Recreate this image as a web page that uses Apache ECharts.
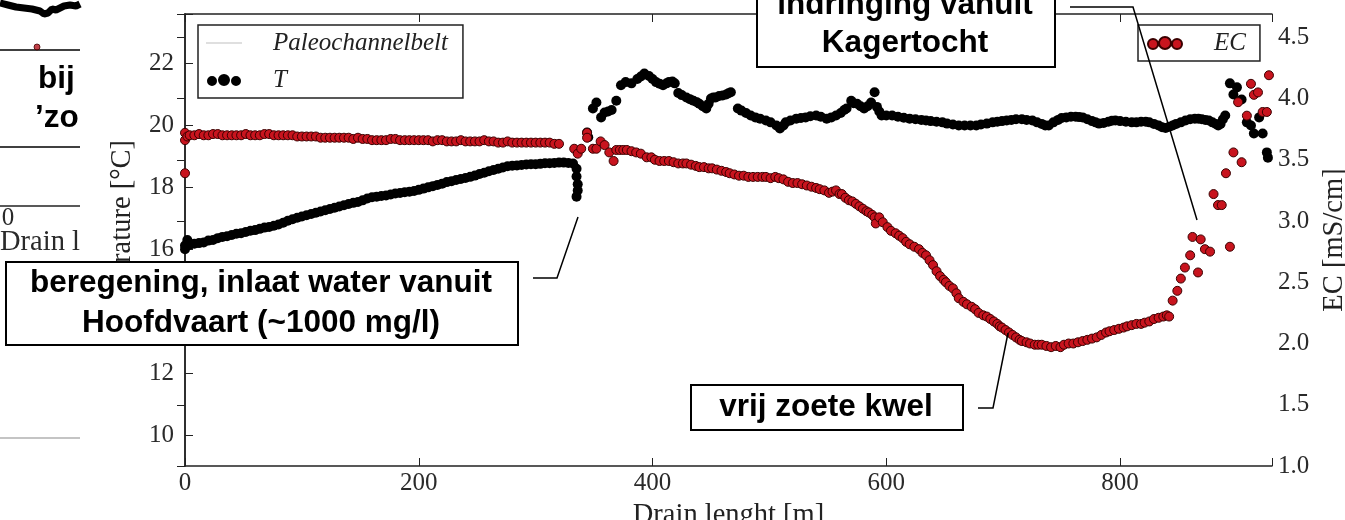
<!DOCTYPE html>
<html>
<head>
<meta charset="utf-8">
<script src="https://cdn.jsdelivr.net/npm/echarts@6/dist/echarts.min.js"></script>
<style>
html, body { margin: 0; padding: 0; background: #fff; }
#main { width: 1345px; height: 520px; }
</style>
</head>
<body>
<div id="main"></div>
<script>
// tick labels
var xTicks = [0, 200, 400, 600, 800];
var tempTicks = [10, 12, 14, 16, 18, 20, 22];
var ecTicks = [1.0, 1.5, 2.0, 2.5, 3.0, 3.5, 4.0, 4.5];

// temperature T [°C] along the drain (distance in m)
var tempDist = [
    0, 0, 2, 4, 8, 12, 16, 20, 24, 28, 32, 36, 40, 44, 48, 52, 56, 60, 64, 68, 72, 76, 80, 84, 88, 92, 96,
    100, 104, 108, 112, 116, 120, 124, 128, 132, 136, 140, 144, 148, 152, 156, 160, 164, 168, 172, 176, 180,
    184, 188, 192, 196, 200, 204, 208, 212, 216, 220, 224, 228, 232, 236, 240, 244, 248, 252, 256, 260, 264,
    268, 272, 276, 280, 284, 288, 292, 296, 300, 304, 308, 312, 316, 320, 324, 328, 332, 335, 335, 336, 336, 335,
    344, 345, 349, 352, 356, 359, 362, 365, 369, 373, 377, 382, 387, 390, 393, 397, 400, 403, 406, 409, 412,
    414, 417, 419, 422, 425, 429, 432, 435, 438, 440, 443, 446, 448, 450, 452, 454, 457, 460, 463, 465, 467,
    473, 476, 480, 484, 488, 492, 497, 501, 506, 509, 512, 514, 518, 523, 527, 531, 535, 540, 544, 549, 553,
    557, 561, 564, 566, 570, 572, 575, 578, 581, 584, 587, 590, 592, 594, 596, 600, 605, 610, 615, 620, 625,
    630, 634, 638, 643, 648, 652, 657, 662, 667, 672, 677, 681, 686, 691, 695, 699, 703, 707, 711, 716, 720,
    725, 729, 733, 736, 739, 743, 747, 750, 754, 758, 762, 765, 768, 772, 776, 779, 782, 786, 790, 793, 796,
    800, 805, 810, 814, 818, 822, 825, 829, 833, 836, 839, 842, 845, 848, 852, 856, 860, 864, 867, 870, 873,
    876, 879, 882, 884, 886, 888, 890,
    894, 900, 897, 904, 908.5, 912, 914.5, 919, 922, 925.6, 926.5
];
var tempVals = [
    16.12, 16.0, 16.3, 16.15, 16.18, 16.2, 16.22, 16.28, 16.3, 16.36, 16.4, 16.42, 16.46, 16.5, 16.52, 16.56,
    16.6, 16.62, 16.66, 16.7, 16.72, 16.76, 16.8, 16.86, 16.92, 16.97, 17.02, 17.06, 17.1, 17.14, 17.18, 17.22,
    17.26, 17.3, 17.34, 17.38, 17.42, 17.46, 17.5, 17.53, 17.58, 17.64, 17.68, 17.7, 17.72, 17.74, 17.77, 17.8,
    17.82, 17.84, 17.86, 17.88, 17.92, 17.96, 18.0, 18.04, 18.08, 18.12, 18.17, 18.2, 18.24, 18.27, 18.3, 18.34,
    18.38, 18.43, 18.47, 18.52, 18.56, 18.6, 18.64, 18.68, 18.7, 18.71, 18.72, 18.74, 18.75, 18.75, 18.76, 18.78,
    18.78, 18.79, 18.8, 18.8, 18.79, 18.77, 18.6, 18.35, 18.1, 17.9, 17.7,
    19.77, 19.62, 20.55, 20.74, 20.26, 20.42, 20.45, 20.5, 20.8, 21.3, 21.4, 21.36, 21.5, 21.58, 21.68, 21.6,
    21.5, 21.4, 21.35, 21.3, 21.36, 21.4, 21.42, 21.36, 21.05, 20.98, 20.9, 20.85, 20.8, 20.75, 20.7, 20.62,
    20.55, 20.7, 20.87, 20.9, 20.9, 20.95, 20.97, 21.0, 21.04, 21.07,
    20.55, 20.48, 20.4, 20.32, 20.26, 20.22, 20.16, 20.1, 20.0, 19.9, 20.0, 20.1, 20.16, 20.22, 20.24, 20.26,
    20.3, 20.32, 20.28, 20.22, 20.26, 20.32, 20.4, 20.5, 20.55, 20.8, 20.72, 20.7, 20.62, 20.55, 20.62, 20.74,
    21.07, 20.6, 20.45, 20.32, 20.32, 20.32, 20.28, 20.25, 20.22, 20.2, 20.18, 20.16, 20.14, 20.12, 20.1, 20.06,
    20.03, 20.0, 20.0, 20.0, 20.0, 20.03, 20.06, 20.1, 20.12, 20.14, 20.16, 20.18, 20.2, 20.2, 20.18, 20.16,
    20.1, 20.05, 20.0, 20.0, 20.1, 20.18, 20.24, 20.26, 20.28, 20.28, 20.27, 20.26, 20.2, 20.14, 20.1, 20.06,
    20.08, 20.12, 20.15, 20.16, 20.14, 20.12, 20.1, 20.1, 20.12, 20.12, 20.1, 20.05, 20.0, 19.94, 19.92, 19.96,
    20.0, 20.05, 20.1, 20.16, 20.2, 20.22, 20.22, 20.2, 20.18, 20.16, 20.1, 20.05, 20.0, 20.05, 20.2, 20.32,
    21.36, 21.23, 21.0, 20.84, 20.1, 20.0, 19.74, 20.26, 19.74, 19.13, 18.96
];

// electrical conductivity EC [mS/cm] along the drain
var ecDist = [
    0, 0, 0, 2, 4, 8, 12, 16, 20, 24, 28, 32, 36, 40, 44, 48, 52, 56, 60, 64, 68, 72, 76, 80, 84, 88, 92, 96,
    100, 104, 108, 112, 116, 120, 124, 128, 132, 136, 140, 144, 148, 152, 156, 160, 164, 168, 172, 176, 180,
    184, 188, 192, 196, 200, 204, 208, 212, 216, 220, 224, 228, 232, 236, 240, 244, 248, 252, 256, 260, 264,
    268, 272, 276, 280, 284, 288, 292, 296, 300, 304, 308, 312, 316, 320,
    333, 336, 339, 344, 344, 349, 352, 355.6, 359, 363, 366.7, 369, 372, 375, 378, 382, 386, 390, 395, 399, 402,
    406, 410, 414, 418, 422, 426, 429, 433, 437, 440, 444, 448, 451, 455, 459, 463, 466, 470, 474, 478, 482,
    486, 490, 494, 497, 501, 505, 508, 512, 516, 520, 524, 528, 532, 536, 540, 543, 547, 551, 554, 557, 560,
    562, 565, 568, 571, 574, 577, 580, 583, 585, 588, 590, 591, 594, 597, 601, 604, 608, 611, 614, 617, 620,
    624, 628, 631, 634, 637, 640, 643, 646, 649, 651, 654, 657, 660, 662, 666, 669, 673, 676, 679, 683, 686,
    689, 692, 695, 697, 699, 702, 705, 708, 711, 714, 716, 720, 723, 727, 730, 733, 737, 741, 745, 749, 752,
    756, 760, 764, 768, 772, 776, 780, 784, 788, 791, 795, 799, 803, 806, 810, 814, 818, 821, 825, 829, 833,
    837, 840, 842,
    845, 849, 852, 855.5, 860, 862, 866.7, 869, 872.6, 877, 880, 883.8, 887, 890.6, 894, 897, 901, 904, 908.5,
    912, 914.5, 918, 922, 925.6, 927.4
];
var ecVals = [
    3.72, 3.66, 3.39, 3.69, 3.7, 3.7, 3.71, 3.7, 3.7, 3.71, 3.71, 3.7, 3.7, 3.7, 3.7, 3.7, 3.71, 3.7, 3.7, 3.7,
    3.71, 3.71, 3.7, 3.7, 3.7, 3.7, 3.7, 3.69, 3.69, 3.69, 3.69, 3.69, 3.68, 3.68, 3.68, 3.68, 3.68, 3.68, 3.68,
    3.67, 3.68, 3.67, 3.67, 3.66, 3.66, 3.66, 3.66, 3.67, 3.67, 3.66, 3.66, 3.66, 3.66, 3.66, 3.66, 3.66, 3.65,
    3.66, 3.66, 3.65, 3.65, 3.65, 3.66, 3.65, 3.65, 3.65, 3.65, 3.66, 3.65, 3.65, 3.64, 3.64, 3.65, 3.64, 3.64,
    3.64, 3.64, 3.64, 3.64, 3.64, 3.64, 3.64, 3.63, 3.63,
    3.59, 3.55, 3.59, 3.72, 3.68, 3.59, 3.59, 3.65, 3.62, 3.56, 3.49, 3.58, 3.58, 3.58, 3.58, 3.57, 3.56, 3.55,
    3.52, 3.52, 3.5,
    3.49, 3.49, 3.49, 3.48, 3.47, 3.47, 3.47, 3.46, 3.45, 3.44, 3.44, 3.43, 3.43, 3.42, 3.41, 3.4, 3.39, 3.38,
    3.37, 3.37, 3.36, 3.36, 3.36, 3.36, 3.36, 3.35, 3.36, 3.35, 3.34, 3.32, 3.31, 3.31, 3.3, 3.29, 3.28, 3.27,
    3.26, 3.25, 3.23, 3.24, 3.25, 3.22, 3.22, 3.19, 3.17, 3.16, 3.14, 3.12, 3.1, 3.08, 3.07, 3.05, 3.03, 2.98,
    3.03, 2.99, 2.95, 2.92, 2.9, 2.88, 2.86, 2.83, 2.81, 2.79, 2.77, 2.74, 2.72, 2.68, 2.64, 2.59, 2.55, 2.52,
    2.5, 2.47, 2.45, 2.41, 2.37, 2.34, 2.32, 2.3, 2.28, 2.25, 2.23, 2.22, 2.2, 2.18, 2.16, 2.14, 2.13, 2.11,
    2.09, 2.07, 2.05, 2.03, 2.02, 2.01, 2.0, 1.99, 1.99, 1.99, 1.98, 1.97, 1.98, 1.97, 1.99, 2.0, 2.0, 2.01,
    2.02, 2.03, 2.04, 2.05, 2.07, 2.09, 2.1, 2.11, 2.12, 2.13, 2.14, 2.15, 2.16, 2.16, 2.17, 2.18, 2.2, 2.21,
    2.22, 2.23, 2.22,
    2.35, 2.43, 2.53, 2.62, 2.72, 2.87, 2.58, 2.85, 2.77, 2.75, 3.22, 3.13, 3.13, 3.39, 2.79, 3.56, 3.97, 3.48,
    3.86, 4.12, 4.03, 4.05, 3.89, 3.89, 4.19
];

// piece of the neighbouring figure that shows at the left edge
var fragX = [0, 8, 16, 24, 32, 40, 44, 48, 52, 56, 60, 64, 70, 76, 80];
var fragY = [3, 5, 7, 8, 9, 11, 14, 13, 9, 10, 8, 6, 5, 6, 4];

function pairs(xs, ys) {
    return xs.map(function (x, i) { return [x, ys[i]]; });
}

var serif = 'Liberation Serif';
var axisColor = '#222';
var labelColor = '#2a2a2a';
var annoFont = 'bold 31.5px "Liberation Sans"';

var threeDots = 'path://M0,7a5,5 0 1,0 10,0a5,5 0 1,0 -10,0zM11,6a6,6 0 1,0 12,0a6,6 0 1,0 -12,0zM24,7a5,5 0 1,0 10,0a5,5 0 1,0 -10,0z';
var legendText = {
    fontFamily: serif, fontStyle: 'italic', fontSize: 25, color: '#222',
    lineHeight: 30, padding: [0, 0, 0, 26]
};
var nameStyle = { fontFamily: serif, fontSize: 28.5, color: '#222' };
var tickLine = { color: axisColor };

var chart = echarts.init(document.getElementById('main'));
chart.setOption({
    animation: false,
    grid: [
        // main plot: 9..23.6 on the left, 1..4.69 on the right
        { left: 185, right: 73, top: 14, bottom: 54, outerBoundsMode: 'none' },
        // neighbour fragment
        { left: 0, top: 0, width: 80, height: 50, outerBoundsMode: 'none' },
        // same left scale, starting at 10 so the ticks fall on even values
        { left: 185, right: 73, top: 14, bottom: 85, outerBoundsMode: 'none' }
    ],
    legend: [
        {
            left: 198, top: 25, orient: 'vertical',
            padding: [3, 15, 3, 8], itemGap: 7,
            itemWidth: 36, itemHeight: 12,
            borderColor: axisColor, borderWidth: 1.5, backgroundColor: '#fff',
            textStyle: legendText,
            data: [
                { name: 'Paleochannelbelt', icon: 'path://M0,0L40,0L40,1.6L0,1.6z' },
                { name: 'T', icon: threeDots }
            ]
        },
        {
            left: 1138, top: 25,
            padding: [3, 14, 3, 9],
            itemWidth: 36, itemHeight: 12,
            borderColor: axisColor, borderWidth: 1.5, backgroundColor: '#fff',
            textStyle: legendText,
            data: [{ name: 'EC', icon: threeDots }]
        }
    ],
    xAxis: [
        {
            type: 'value', gridIndex: 0, position: 'bottom', min: 0, max: 930, interval: 200,
            name: 'Drain lenght [m]', nameLocation: 'middle', nameGap: 29,
            nameTextStyle: nameStyle,
            axisLine: { show: true, lineStyle: { color: axisColor, width: 1.5 } },
            axisTick: { show: true, inside: true, length: 8, lineStyle: tickLine },
            axisLabel: { customValues: xTicks, fontFamily: serif, fontSize: 25, color: labelColor, margin: 5 },
            splitLine: { show: false }
        },
        {
            type: 'value', gridIndex: 0, position: 'top', min: 0, max: 930, interval: 200,
            axisLine: { show: true, lineStyle: { color: axisColor, width: 1.5 } },
            axisTick: { show: true, inside: true, length: 8, lineStyle: tickLine },
            axisLabel: { show: false },
            splitLine: { show: false }
        },
        { type: 'value', gridIndex: 1, min: 0, max: 80, show: false },
        { type: 'value', gridIndex: 2, min: 0, max: 930, show: false }
    ],
    yAxis: [
        {
            type: 'value', gridIndex: 0, position: 'left', min: 9, max: 23.6,
            name: 'Temperature [°C]', nameLocation: 'middle', nameGap: 48,
            nameTextStyle: nameStyle,
            axisLine: { show: true, lineStyle: { color: axisColor, width: 1.5 } },
            axisTick: { show: false },
            axisLabel: { show: false },
            splitLine: { show: false }
        },
        {
            type: 'value', gridIndex: 0, position: 'right', min: 1, max: 4.69, interval: 0.5,
            name: 'EC [mS/cm]', nameLocation: 'middle', nameGap: 47,
            nameTextStyle: nameStyle,
            axisLine: { show: true, lineStyle: { color: axisColor, width: 1.5 } },
            axisTick: { show: true, inside: true, length: 8, lineStyle: tickLine },
            axisLabel: {
                customValues: ecTicks, fontFamily: serif, fontSize: 25, color: labelColor, margin: 6,
                formatter: function (v) { return v.toFixed(1); }
            },
            splitLine: { show: false }
        },
        { type: 'value', gridIndex: 1, min: 0, max: 50, inverse: true, show: false },
        {
            type: 'value', gridIndex: 2, position: 'left', min: 10, max: 23.6, interval: 2,
            axisLine: { show: false },
            axisTick: { show: true, inside: true, length: 8, lineStyle: tickLine },
            axisLabel: { customValues: tempTicks, fontFamily: serif, fontSize: 25, color: labelColor, margin: 11 },
            splitLine: { show: false }
        }
    ],
    series: [
        { name: 'Paleochannelbelt', type: 'line', data: [], color: '#d4d4d4' },
        {
            name: 'T', type: 'scatter', xAxisIndex: 0, yAxisIndex: 0,
            data: pairs(tempDist, tempVals), symbolSize: 10,
            itemStyle: { color: '#000', opacity: 1 }
        },
        {
            name: 'EC', type: 'scatter', xAxisIndex: 0, yAxisIndex: 1,
            data: pairs(ecDist, ecVals), symbolSize: 9,
            itemStyle: { color: '#c8141e', borderColor: '#3a0000', borderWidth: 1, opacity: 1 }
        },
        {
            type: 'line', xAxisIndex: 2, yAxisIndex: 2, data: pairs(fragX, fragY),
            symbol: 'none', lineStyle: { color: '#000', width: 7 }, silent: true
        },
        {
            type: 'scatter', xAxisIndex: 2, yAxisIndex: 2, data: [[37, 47]],
            symbolSize: 6, itemStyle: { color: '#b0101a', borderColor: '#400', borderWidth: 1 }
        }
    ],
    graphic: [
        // left neighbour fragment
        { type: 'polyline', shape: { points: [[0, 50], [80, 50]] }, style: { stroke: '#000', lineWidth: 1.5 } },
        { type: 'text', x: 38, y: 79, style: { text: 'bij', font: annoFont, fill: '#000', verticalAlign: 'middle' } },
        { type: 'text', x: 35, y: 118, style: { text: '\u2019zo', font: annoFont, fill: '#000', verticalAlign: 'middle' } },
        { type: 'polyline', shape: { points: [[0, 147], [80, 147]] }, style: { stroke: '#000', lineWidth: 1.5 } },
        { type: 'polyline', shape: { points: [[0, 206], [80, 206]] }, style: { stroke: axisColor, lineWidth: 1.5 } },
        { type: 'text', x: 8, y: 218, style: { text: '0', font: '25px "Liberation Serif"', fill: labelColor, align: 'center', verticalAlign: 'middle' } },
        { type: 'text', x: 0, y: 243, style: { text: 'Drain l', font: '28.5px "Liberation Serif"', fill: labelColor, verticalAlign: 'middle' } },
        { type: 'polyline', shape: { points: [[0, 438], [80, 438]] }, style: { stroke: '#b0b0b0', lineWidth: 1.5 } },

        // annotation: top
        { type: 'rect', z: 100, shape: { x: 757, y: -20, width: 298, height: 87 }, style: { fill: '#fff', stroke: '#000', lineWidth: 2 } },
        { type: 'text', z: 101, x: 905, y: 24.5, style: { text: 'indringing vanuit\nKagertocht', font: annoFont, lineHeight: 38, fill: '#000', align: 'center', verticalAlign: 'middle' } },
        { type: 'polyline', z: 100, shape: { points: [[1070, 7], [1133, 7], [1197, 220]] }, style: { stroke: '#000', lineWidth: 1.5, fill: null } },

        // annotation: beregening
        { type: 'rect', z: 100, shape: { x: 6, y: 262, width: 512, height: 83 }, style: { fill: '#fff', stroke: '#000', lineWidth: 2 } },
        { type: 'text', z: 101, x: 261, y: 303, style: { text: 'beregening, inlaat water vanuit\nHoofdvaart (~1000 mg/l)', font: annoFont, lineHeight: 40, fill: '#000', align: 'center', verticalAlign: 'middle' } },
        { type: 'polyline', z: 100, shape: { points: [[533, 278], [557, 278], [578, 217]] }, style: { stroke: '#000', lineWidth: 1.5, fill: null } },

        // annotation: vrij zoete kwel
        { type: 'rect', z: 100, shape: { x: 691, y: 385, width: 272, height: 45 }, style: { fill: '#fff', stroke: '#000', lineWidth: 2 } },
        { type: 'text', z: 101, x: 826, y: 407, style: { text: 'vrij zoete kwel', font: annoFont, fill: '#000', align: 'center', verticalAlign: 'middle' } },
        { type: 'polyline', z: 100, shape: { points: [[978, 408], [993, 408], [1008, 333]] }, style: { stroke: '#000', lineWidth: 1.5, fill: null } }
    ]
});
</script>
</body>
</html>
